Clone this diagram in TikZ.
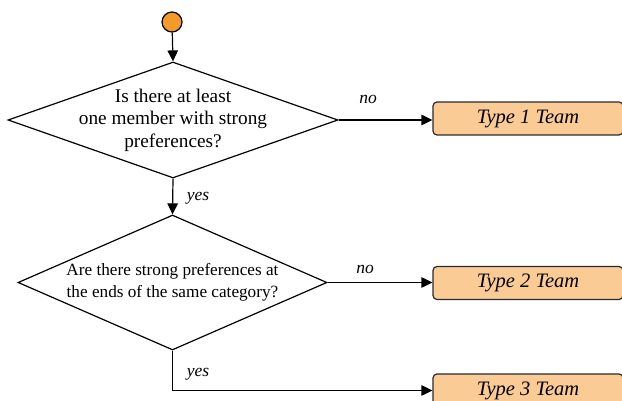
\documentclass[tikz,border=0pt]{standalone}
\usepackage{fontspec}
\setmainfont{Liberation Serif}
\usetikzlibrary{shapes.geometric,arrows.meta}
\definecolor{startfill}{HTML}{F39B26}
\definecolor{teamfill}{HTML}{FBCB96}
\definecolor{teamline}{HTML}{2A2A2A}
\tikzset{
  flow/.style={line width=1.2pt,-{Triangle[length=11pt,width=10.5pt]}},
  decision/.style={diamond,draw,line width=1.2pt,inner sep=0pt},
  team/.style={draw=teamline,fill=teamfill,rounded corners=4pt,line width=1.2pt,
    minimum width=190pt,minimum height=33pt,inner sep=0pt,
    font=\fontsize{20.5}{22}\selectfont\itshape},
  answer/.style={font=\fontsize{17.5}{19}\selectfont\itshape,inner sep=0pt},
}
\begin{document}
\begin{tikzpicture}[x=1pt,y=-1pt]
\useasboundingbox (0,0) rectangle (622,401);
% start point
\node (start) [circle,draw,fill=startfill,line width=1.2pt,minimum size=20pt,inner sep=0pt] at (172,22) {};
% decisions
\node (d1) [decision,minimum width=330pt,minimum height=116pt,
  label={[align=center,font=\fontsize{19.3}{22.5}\selectfont]center:Is there at least\\one member with strong\\preferences?}] at (173,120) {};
\node (d2) [decision,minimum width=309pt,minimum height=135pt,
  label={[align=center,font=\fontsize{17.2}{22}\selectfont]center:Are there strong preferences at\\the ends of the same category?}] at (172.5,282.5) {};
% outcomes
\node (t1) [team] at (528,118.5) {Type 1 Team};
\node (t2) [team] at (528,283) {Type 2 Team};
\node (t3) [team] at (528,390.5) {Type 3 Team};
\coordinate (bend) at (d2.south |- t3.west);
% connectors
\draw[flow] (start) -- (d1.north);
\draw[flow] (d1.south) -- (d2.north);
\draw[flow] (d1.east) -- (d1.east -| t1.west);
\draw[flow] (d2.east) -- (d2.east -| t2.west);
\draw[flow] (d2.south) -- (bend) -- (t3.west);
% answer labels
\node (no1) [answer] at (368,99) {no};
\node (yes1) [answer] at (198,198) {yes};
\node (no2) [answer] at (365,269) {no};
\node (yes2) [answer] at (198,374) {yes};
\end{tikzpicture}
\end{document}
